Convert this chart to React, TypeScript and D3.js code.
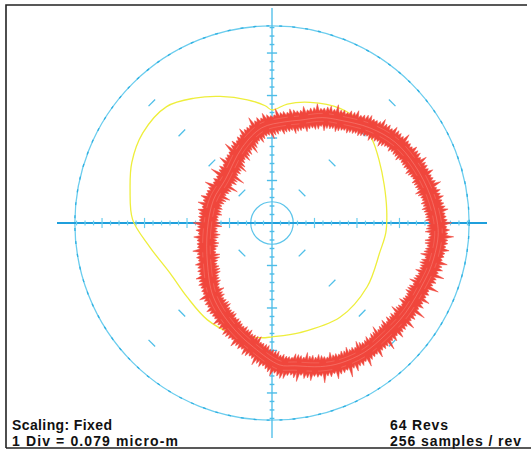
import React, { useEffect, useRef } from 'react';
import * as d3 from 'd3';

// polar run-out plot, units are divisions (1 div = 0.079 micro-m), origin = spindle centre
const axisHalf = 25.3;
const outerRing = 23.2;
const innerRing = 2.5;
const dashRadii = [5, 10, 15, 20];
const dashAngles = [45, 135, 225, 315];

// yellow reference profile (x, y in div)
const yellowX = [0, 1.8, 4.5, 8.0, 10.4, 11.8, 12.6, 13.2, 13.5, 13.4, 12.7, 11.2, 8.0, 3.3, 0, -1.4, -4.9, -7.6, -10.0, -12.0, -14.4, -16.4, -16.7, -16.5, -15.2, -12.4, -9.1, -6.1, -2.9, -0.8];
const yellowY = [13.3, 14.0, 14.2, 13.5, 11.9, 9.8, 7.4, 4.5, 1.5, -1.1, -3.4, -7.5, -11.1, -12.9, -13.4, -13.5, -12.9, -11.4, -8.7, -5.9, -2.8, 0.4, 3.9, 7.1, 10.6, 13.7, 14.7, 14.9, 14.5, 13.8];

// red measured trace, mean path of the 64 revs (x, y in div)
const redX = [-7.6, -6.9, -5.5, -3.5, -1.2, 1.5, 3.3, 5.9, 8.0, 11.5, 14.5, 16.8, 18.6, 19.5, 19.5, 18.8, 18.0, 15.7, 13.3, 10.9, 8.0, 5.7, 2.7, 0.9, -2.2, -4.7, -6.9, -7.6];
const redY = [-0.8, 2.7, 5.1, 8.9, 11.2, 11.9, 12.1, 12.4, 12.1, 11.2, 9.5, 6.8, 3.3, -0.2, -2.0, -4.9, -6.7, -10.6, -13.2, -15.2, -16.5, -16.9, -16.8, -16.7, -14.6, -12.2, -8.7, -4.7];

// scatter of the trace beyond the mean band, tenths of a div
const spikeOuter = [
  6, 2, 9, 3, 11, 4, 8, 2, 10, 5,
  3, 7, 2, 9, 4, 6, 1, 8, 3, 5,
  2, 6, 3, 7, 2, 5, 8, 3, 4, 6,
  3, 5, 2, 7, 4, 6, 3, 8, 2, 5,
  4, 7, 3, 6, 2, 8, 4, 5, 3, 6,
  2, 7, 4, 9, 3, 6, 2, 8, 5, 10,
  4, 11, 3, 8, 5, 12, 4, 9, 3, 7,
  5, 10, 3, 8, 2, 9, 4, 7, 11, 3,
  8, 4, 10, 3, 7, 5, 9, 2, 6, 4,
  7, 3, 5, 8, 2, 6, 4, 7, 3, 5,
  4, 6, 2, 5, 3, 7, 2, 4, 6, 3,
  5, 3, 7, 2, 6, 4, 8, 3, 5, 7,
];
const spikeInner = [
  4, 8, 3, 10, 5, 12, 4, 9, 3, 7,
  5, 9, 3, 6, 2, 8, 4, 5, 3, 6,
  3, 5, 2, 4, 6, 3, 5, 2, 4, 3,
  4, 2, 5, 3, 6, 2, 4, 3, 5, 2,
  3, 5, 2, 4, 3, 6, 2, 4, 5, 3,
  4, 3, 6, 2, 5, 3, 7, 4, 3, 6,
  3, 7, 4, 5, 2, 6, 3, 8, 4, 5,
  6, 3, 8, 4, 5, 2, 7, 3, 6, 4,
  3, 6, 2, 5, 4, 7, 3, 5, 2, 4,
  5, 3, 4, 2, 6, 3, 5, 4, 2, 3,
  4, 2, 5, 3, 4, 6, 2, 3, 5, 4,
  3, 6, 2, 5, 4, 3, 7, 2, 5, 4,
];

const textLeft = ['Scaling: Fixed', '1 Div = 0.079 micro-m'];
const textRight = ['64 Revs', '256 samples / rev'];

const W = 531;
const H = 450;

function App() {
  const midRef = useRef<SVGPathElement>(null);
  const bandRef = useRef<SVGPathElement>(null);

  const x = d3.scaleLinear().domain([-axisHalf, axisHalf]).range([57, 487]);
  const y = d3.scaleLinear().domain([-axisHalf, axisHalf]).range([438, 8]);
  const k = x(1) - x(0);
  const cx = x(0);
  const cy = y(0);
  const pcx = x(d3.mean(redX) as number);
  const pcy = y(d3.mean(redY) as number);

  const ticks = d3.range(1, Math.floor(outerRing) + 1);

  const yellowLine = d3.line<number>()
    .x(i => x(yellowX[i]))
    .y(i => y(yellowY[i]))
    .curve(d3.curveCatmullRomClosed);

  const redLine = d3.line<number>()
    .x(i => x(redX[i]))
    .y(i => y(redY[i]))
    .curve(d3.curveCatmullRomClosed);

  useEffect(() => {
    const mid = midRef.current;
    if (!mid) return;
    const L = mid.getTotalLength();
    const n = spikeOuter.length;
    const half = 0.95 * k;
    const outer: [number, number][] = [];
    const inner: [number, number][] = [];
    for (let i = 0; i < n; i++) {
      const j = (i + 37) % n;
      const m = (i + 71) % n;
      // peak, dip, small peak, dip within each step
      const outOff = [spikeOuter[i], -2, spikeInner[j] * 0.5, -1];
      const inOff = [spikeInner[i], -1, spikeOuter[m] * 0.5, -2];
      [0, 0.25, 0.5, 0.75].forEach((f, s) => {
        const p = mid.getPointAtLength(((i + f) / n) * L);
        const dx = p.x - pcx;
        const dy = p.y - pcy;
        const d = Math.hypot(dx, dy);
        const ux = dx / d;
        const uy = dy / d;
        const ro = half + outOff[s] * 0.1 * k;
        const ri = half + inOff[s] * 0.1 * k;
        outer.push([p.x + ux * ro, p.y + uy * ro]);
        inner.push([p.x - ux * ri, p.y - uy * ri]);
      });
    }
    const line = d3.line().curve(d3.curveLinearClosed);
    d3.select(bandRef.current).attr('d', (line(outer) || '') + (line(inner) || ''));
  }, []);

  const idx = (arr: number[]) => d3.range(arr.length);
  const redPath = redLine(idx(redX)) || '';
  const streak = (s: number) => `translate(${pcx},${pcy}) scale(${s}) translate(${-pcx},${-pcy})`;

  return (
    <svg width={W} height={H} style={{ position: 'absolute', left: 0, top: 0, background: '#fff' }}>
      {/* rings */}
      <circle cx={cx} cy={cy} r={outerRing * k} fill="none" stroke="#6ccdee" strokeWidth={1.3} />
      <circle cx={cx} cy={cy} r={outerRing * k} fill="none" stroke="#2fb0e2" strokeWidth={1.3} strokeDasharray="3 10" />
      <circle cx={cx} cy={cy} r={innerRing * k} fill="none" stroke="#5cc4ea" strokeWidth={1.2} />

      {/* diagonal division marks */}
      {dashAngles.map(a =>
        dashRadii.map(r => {
          const t = (a * Math.PI) / 180;
          const px = r * Math.cos(t);
          const py = r * Math.sin(t);
          const tx = -Math.sin(t) * 0.55;
          const ty = Math.cos(t) * 0.55;
          return (
            <line key={`${a}-${r}`} x1={x(px - tx)} y1={y(py - ty)} x2={x(px + tx)} y2={y(py + ty)}
              stroke="#4fbfe8" strokeWidth={1.3} />
          );
        })
      )}

      {/* axes */}
      <line x1={x(-axisHalf)} x2={x(axisHalf)} y1={cy} y2={cy} stroke="#1f9fdc" strokeWidth={2} />
      <line x1={cx} x2={cx} y1={y(axisHalf)} y2={y(-axisHalf)} stroke="#55c0ea" strokeWidth={1.4} />
      {ticks.flatMap(t => [t, -t]).map(t => {
        const hl = Math.abs(t) % 5 === 0 ? 0.6 : 0.28;
        return (
          <g key={t}>
            <line x1={x(t)} x2={x(t)} y1={y(hl)} y2={y(-hl)} stroke="#6ccdee" strokeWidth={1.2} />
            <line x1={x(-hl)} x2={x(hl)} y1={y(t)} y2={y(t)} stroke="#4dbde8" strokeWidth={1.4} />
          </g>
        );
      })}

      {/* reference profile */}
      <path d={yellowLine(idx(yellowX)) || ''} fill="none" stroke="#eeee3c" strokeWidth={1.3} />

      {/* measured trace */}
      <path ref={bandRef} fill="#f0463c" fillRule="evenodd" stroke="#f0463c" strokeWidth={0.5} strokeLinejoin="round" />
      <path ref={midRef} d={redPath} fill="none" stroke="#f7877d" strokeWidth={0.7} opacity={0.8} />
      <path d={redPath} transform={streak(1.035)} fill="none" stroke="#f89a90" strokeWidth={0.5} opacity={0.6} strokeDasharray="14 6 5 9" />
      <path d={redPath} transform={streak(0.97)} fill="none" stroke="#f89a90" strokeWidth={0.5} opacity={0.6} strokeDasharray="9 7 18 5" />

      {/* frame */}
      <path d={`M6,${H - 2} L6,5 L527,5`} fill="none" stroke="#222" strokeWidth={1.6} />

      {/* captions */}
      <g fontFamily="Liberation Sans, Arial, sans-serif" fontSize={14} fontWeight="bold" fill="#111">
        {textLeft.map((s, i) => (
          <text key={s} x={12} y={430 + i * 16} textLength={i === 0 ? 100 : 166}>{s}</text>
        ))}
        {textRight.map((s, i) => (
          <text key={s} x={390} y={430 + i * 16} textLength={i === 0 ? 58 : 131}>{s}</text>
        ))}
      </g>
      <line x1={6} x2={W} y1={H - 2} y2={H - 2} stroke="#222" strokeWidth={1.6} />
    </svg>
  );
}

export default App;
